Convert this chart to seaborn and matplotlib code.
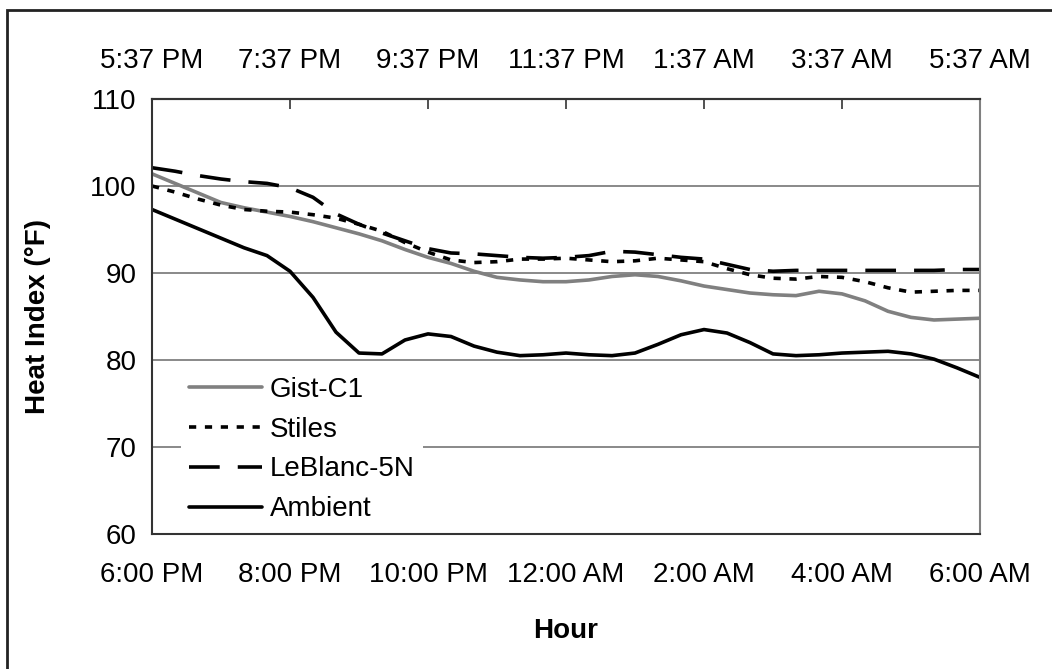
import matplotlib
matplotlib.use("Agg")
import matplotlib.pyplot as plt
import seaborn as sns
import pandas as pd
import numpy as np
from matplotlib.patches import Rectangle

# ---- data (hours after 6:00 PM, 20-minute steps) ----
hours = [0, 1/3, 2/3, 1, 4/3, 5/3, 2, 7/3, 8/3, 3, 10/3, 11/3, 4, 13/3, 14/3, 5,
         16/3, 17/3, 6, 19/3, 20/3, 7, 22/3, 23/3, 8, 25/3, 26/3, 9, 28/3, 29/3,
         10, 31/3, 32/3, 11, 34/3, 35/3, 12]

gist = [101.4, 100.3, 99.2, 98.1, 97.5, 97.0, 96.5, 95.9, 95.2, 94.5, 93.7, 92.7,
        91.8, 91.1, 90.2, 89.5, 89.2, 89.0, 89.0, 89.2, 89.6, 89.8, 89.6, 89.1,
        88.5, 88.1, 87.7, 87.5, 87.4, 87.9, 87.6, 86.8, 85.6, 84.9, 84.6, 84.7, 84.8]

stiles = [100.0, 99.3, 98.5, 97.8, 97.3, 97.1, 97.0, 96.7, 96.3, 95.6, 94.8, 93.5,
          92.4, 91.5, 91.2, 91.3, 91.6, 91.6, 91.7, 91.5, 91.3, 91.4, 91.7, 91.5,
          91.3, 90.5, 89.8, 89.4, 89.3, 89.6, 89.5, 89.0, 88.3, 87.8, 87.9, 88.0, 88.0]

leblanc = [102.1, 101.7, 101.2, 100.8, 100.5, 100.3, 99.8, 98.7, 96.8, 95.6, 94.6, 93.7,
           92.8, 92.3, 92.2, 92.0, 91.8, 91.7, 91.8, 92.0, 92.5, 92.4, 92.1, 91.8,
           91.6, 91.0, 90.4, 90.2, 90.3, 90.3, 90.3, 90.3, 90.3, 90.3, 90.3, 90.4, 90.4]

ambient = [97.3, 96.2, 95.1, 94.0, 92.9, 92.0, 90.2, 87.2, 83.2, 80.8, 80.7, 82.3,
           83.0, 82.7, 81.6, 80.9, 80.5, 80.6, 80.8, 80.6, 80.5, 80.8, 81.8, 82.9,
           83.5, 83.1, 82.0, 80.7, 80.5, 80.6, 80.8, 80.9, 81.0, 80.7, 80.1, 79.1, 78.0]

series_names = ["Gist-C1", "Stiles", "LeBlanc-5N", "Ambient"]
bottom_ticks = [0, 2, 4, 6, 8, 10, 12]
bottom_labels = ["6:00 PM", "8:00 PM", "10:00 PM", "12:00 AM", "2:00 AM", "4:00 AM", "6:00 AM"]
top_labels = ["5:37 PM", "7:37 PM", "9:37 PM", "11:37 PM", "1:37 AM", "3:37 AM", "5:37 AM"]
y_ticks = [60, 70, 80, 90, 100, 110]

# ---- long-form table ----
df = pd.concat([
    pd.DataFrame({"Hour": hours, "HI": vals, "Series": name})
    for name, vals in zip(series_names, [gist, stiles, leblanc, ambient])
], ignore_index=True)

sns.set_style("white")
plt.rcParams["font.family"] = ["Liberation Sans", "DejaVu Sans"]
plt.rcParams["font.size"] = 20
plt.rcParams["text.color"] = "black"
plt.rcParams["axes.labelcolor"] = "black"
plt.rcParams["xtick.color"] = "black"
plt.rcParams["ytick.color"] = "black"

fig = plt.figure(figsize=(10.52, 6.69), dpi=100)
ax = fig.add_axes([152/1052, 1-534/669, (980-152)/1052, (534-99)/669])

palette = {"Gist-C1": "#808080", "Stiles": "black", "LeBlanc-5N": "black", "Ambient": "black"}
dashes = {"Gist-C1": "", "Stiles": (2.0, 2.4), "LeBlanc-5N": (8.5, 5.0), "Ambient": ""}
LW = 2.6

sns.lineplot(data=df, x="Hour", y="HI", hue="Series", style="Series",
             hue_order=series_names, style_order=series_names,
             palette=palette, dashes=dashes, linewidth=LW, ax=ax, legend=True,
             sort=False)

ax.set_xlim(0, 12)
ax.set_ylim(60, 110)
ax.set_xticks(bottom_ticks)
ax.set_xticklabels(bottom_labels)
ax.set_yticks(y_ticks)
ax.set_yticklabels([str(v) for v in y_ticks])

ax.yaxis.grid(True, color="#808080", linewidth=1.3)
ax.xaxis.grid(False)
ax.set_axisbelow(True)

for side in ["left", "bottom", "top"]:
    ax.spines[side].set_color("#333333")
    ax.spines[side].set_linewidth(1.5)
ax.spines["right"].set_color("#808080")
ax.spines["right"].set_linewidth(1.5)

ax.tick_params(axis="x", direction="out", length=7, width=1.2, color="#333333",
               labelcolor="black", labelsize=20, pad=13)
ax.tick_params(axis="y", direction="out", length=7, width=1.2, color="#333333",
               labelcolor="black", labelsize=20, pad=4)

ax.set_xlabel("Hour", fontsize=20, fontweight="bold", labelpad=22, color="black")
ax.set_ylabel("Heat Index (°F)", fontsize=20, fontweight="bold", labelpad=28, color="black")

# top axis
sec = ax.secondary_xaxis("top")
sec.set_xticks(bottom_ticks)
sec.set_xticklabels(top_labels)
sec.tick_params(direction="in", length=7, width=1.2, color="#333333",
                labelcolor="black", labelsize=20, pad=18)
sec.spines["top"].set_color("#333333")
sec.spines["top"].set_linewidth(1.5)

# legend
handles, labels = ax.get_legend_handles_labels()
leg = ax.legend(handles, labels, loc="lower left", bbox_to_anchor=(0.031, 0.0),
                frameon=True, facecolor="white", edgecolor="none", framealpha=1,
                fontsize=20, handlelength=2.6, handletextpad=0.3, labelspacing=0.5,
                borderpad=0.3, borderaxespad=0.12)
for line in leg.get_lines():
    line.set_linewidth(LW)
for txt in leg.get_texts():
    txt.set_color("black")

# outer frame
fig.patches.append(Rectangle((7/1052, -0.1), 1.2, 1.1 - 10/669, transform=fig.transFigure,
                             fill=False, edgecolor="#222222", linewidth=2, clip_on=False))

fig.savefig("out.png", dpi=100)
